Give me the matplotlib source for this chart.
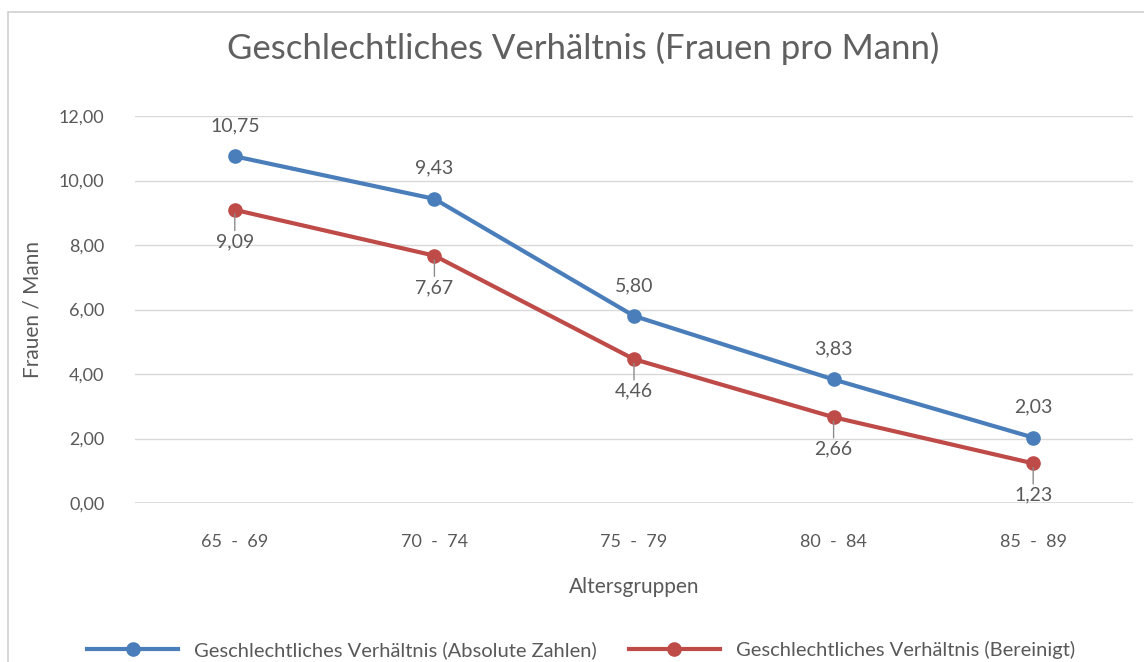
import matplotlib.pyplot as plt
from matplotlib.patches import Rectangle

categories = ["65 - 69", "70 - 74", "75 - 79", "80 - 84", "85 - 89"]
absolute = [10.75, 9.43, 5.80, 3.83, 2.03]
adjusted = [9.09, 7.67, 4.46, 2.66, 1.23]
yticks = [0, 2, 4, 6, 8, 10, 12]

plt.rcParams['font.family'] = ['Lato', 'DejaVu Sans']

blue = "#4a7ebb"
red = "#be4b48"
grey = "#595959"


def fmt(v):
    return f"{v:.2f}".replace(".", ",")


fig = plt.figure(figsize=(11.44, 6.62), dpi=100)
# chart frame
fig.patches.append(Rectangle((8 / 1144, -0.01), 1.1, 1 - 12 / 662 + 0.01, transform=fig.transFigure,
                             fill=False, edgecolor="#d0d0d0", linewidth=1.2))

ax = fig.add_axes([135 / 1144, 1 - 503 / 662, 998 / 1144, 387 / 662])
x = list(range(len(categories)))

ax.plot(x, absolute, color=blue, lw=3, marker="o", ms=9.5, label="Geschlechtliches Verhältnis (Absolute Zahlen)", zorder=3)
ax.plot(x, adjusted, color=red, lw=3, marker="o", ms=9.5, label="Geschlechtliches Verhältnis (Bereinigt)", zorder=3)

for xi, v in zip(x, absolute):
    ax.annotate(fmt(v), (xi, v), xytext=(0, 22), textcoords="offset points",
                ha="center", va="center", fontsize=14, color=grey)
for xi, v in zip(x, adjusted):
    ax.annotate(fmt(v), (xi, v), xytext=(0, -23), textcoords="offset points",
                ha="center", va="center", fontsize=14, color=grey,
                arrowprops=dict(arrowstyle="-", color="#8c8c8c", lw=1, shrinkA=0, shrinkB=3))

ax.set_xlim(-0.5, len(categories) - 0.5)
ax.set_ylim(0, 12)
ax.set_yticks(yticks)
ax.set_yticklabels([fmt(t) for t in yticks], color=grey, fontsize=13)
ax.set_xticks(x)
ax.set_xticklabels([c.replace(" - ", "  -  ") for c in categories], color=grey, fontsize=13)
ax.tick_params(length=0)
ax.tick_params(axis="x", pad=22)
ax.tick_params(axis="y", pad=22)
ax.grid(axis="y", color="#d9d9d9", lw=1)
ax.set_axisbelow(True)
for s in ax.spines.values():
    s.set_visible(False)
ax.axhline(0, color="#d9d9d9", lw=1.2, zorder=1)

ax.set_xlabel("Altersgruppen", color=grey, fontsize=15, labelpad=20)
ax.set_ylabel("Frauen / Mann", color=grey, fontsize=15, labelpad=12)

fig.text(583 / 1144, 1 - 48 / 662, "Geschlechtliches Verhältnis (Frauen pro Mann)",
         ha="center", va="center", fontsize=25, color="#606060")

fig.legend(loc="center", bbox_to_anchor=(0.508, 1 - 650 / 662), ncol=2, frameon=False,
           fontsize=14.5, labelcolor=grey, handlelength=4.5, columnspacing=1.6)

fig.savefig("out.png", dpi=100)
